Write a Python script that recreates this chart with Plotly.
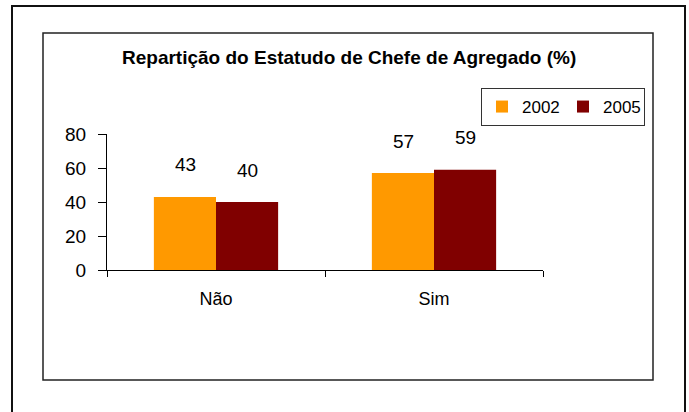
import plotly.graph_objects as go

categories = ["Não", "Sim"]
years = ["2002", "2005"]
values_2002 = [43, 57]
values_2005 = [40, 59]
colors = ["#FF9900", "#800000"]
y_ticks = [0, 20, 40, 60, 80]
title_text = "Repartição do Estatudo de Chefe de Agregado (%)"

FONT = "Liberation Sans, Arial, sans-serif"
W, H = 689, 412
PL, PR, PT, PB = 107, 543, 134, 270  # plot area in page pixels
L, T, R, B = PL, PT, W - PR, H - PB
PW, PH = PR - PL, PB - PT

def px_x(p):
    return (p - PL) / PW

def px_y(p):
    return (PB - p) / PH

fig = go.Figure()
series = [values_2002, values_2005]
for name, vals, col in zip(years, series, colors):
    fig.add_trace(go.Bar(x=categories, y=vals, name=name, marker_color=col,
                         marker_line_width=0))

annotations = []
shifts = [-31, 31]
for vals, sh in zip(series, shifts):
    for c, v in zip(categories, vals):
        annotations.append(dict(x=c, y=v, xref="x", yref="y", text=str(v),
                                showarrow=False, xshift=sh, yshift=32,
                                yanchor="middle",
                                font=dict(family=FONT, size=19, color="#000")))

annotations.append(dict(x=px_x(349), y=px_y(57), xref="paper", yref="paper",
                        text="<b>" + title_text + "</b>", showarrow=False,
                        xanchor="center", yanchor="middle",
                        font=dict(family=FONT, size=19, color="#000")))

shapes = [
    dict(type="rect", xref="paper", yref="paper",
         x0=px_x(12), x1=px_x(685), y0=px_y(440), y1=px_y(6),
         line=dict(color="#111", width=2), layer="below"),
    dict(type="rect", xref="paper", yref="paper",
         x0=px_x(43), x1=px_x(653), y0=px_y(380), y1=px_y(33),
         line=dict(color="#222", width=1.5), layer="below"),
]

fig.update_layout(
    width=W, height=H,
    margin=dict(l=L, r=R, t=T, b=B, autoexpand=False),
    paper_bgcolor="white", plot_bgcolor="white",
    barmode="group", bargap=0.43, bargroupgap=0,
    font=dict(family=FONT, size=17, color="#000"),
    showlegend=True,
    legend=dict(orientation="h", x=px_x(481), y=px_y(107),
                xanchor="left", yanchor="middle",
                bordercolor="#333", borderwidth=1, bgcolor="white",
                font=dict(family=FONT, size=17, color="#000"),
                itemwidth=30, entrywidth=36, entrywidthmode="pixels"),
    annotations=annotations,
    shapes=shapes,
    xaxis=dict(type="category", showline=True, linecolor="#000", linewidth=1,
               ticks="outside", tickson="boundaries", ticklen=6,
               tickcolor="#000", showgrid=False, zeroline=False,
               tickfont=dict(family=FONT, size=18, color="#000"),
               ticklabelstandoff=12),
    yaxis=dict(range=[0, 80], tickvals=y_ticks, showline=True, linecolor="#000",
               linewidth=1, ticks="outside", ticklen=8, tickcolor="#000",
               showgrid=False, zeroline=False,
               tickfont=dict(family=FONT, size=19, color="#000"),
               ticklabelstandoff=8),
)

fig.write_html(
    "out.html",
    config={"displayModeBar": False},
    post_script="document.body.style.margin='0';document.body.style.overflow='hidden';",
)
